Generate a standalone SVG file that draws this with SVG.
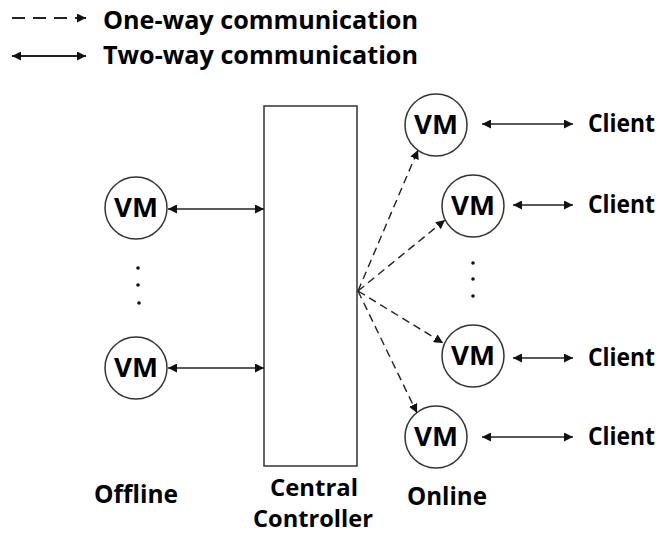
<svg xmlns="http://www.w3.org/2000/svg" width="662" height="533" viewBox="0 0 662 533">
  <defs>
    <marker id="tip" viewBox="0 0 10 10" refX="10" refY="5" markerWidth="9" markerHeight="9" markerUnits="userSpaceOnUse" orient="auto-start-reverse">
      <path d="M0,0 L10,5 L0,10 z" fill="#111"/>
    </marker>
  </defs>
  <style>
    text { font-family: "Open Sans", "Liberation Sans", sans-serif; font-weight: bold; fill: #000; }
    .lbl { font-size: 25px; }
    .cap { font-size: 23px; }
    .vm { font-size: 26px; text-anchor: middle; }
    .node { fill: #fff; stroke: #333; stroke-width: 1.5; }
    .two { stroke: #222; stroke-width: 1.6; fill: none; marker-start: url(#tip); marker-end: url(#tip); }
    .one { stroke: #222; stroke-width: 1.4; fill: none; stroke-dasharray: 8 5; marker-end: url(#tip); }
    .key { stroke-width: 2; }
    .key.one { stroke-dasharray: 13 8; }
    .dot { fill: #111; }
  </style>

  <!-- legend -->
  <g id="legend">
    <line x1="12" y1="18" x2="86" y2="18" class="one key"/>
    <text x="103" y="29" class="lbl" textLength="315" lengthAdjust="spacingAndGlyphs">One-way communication</text>
    <line x1="12" y1="56" x2="86" y2="56" class="two key"/>
    <text x="103" y="64" class="lbl" textLength="315" lengthAdjust="spacingAndGlyphs">Two-way communication</text>
  </g>

  <!-- central controller -->
  <g id="controller">
    <rect x="264" y="106" width="93" height="360" class="node"/>
    <text x="270" y="496" class="cap" textLength="88" lengthAdjust="spacingAndGlyphs">Central</text>
    <text x="253" y="527" class="cap" textLength="120" lengthAdjust="spacingAndGlyphs">Controller</text>
  </g>

  <!-- offline side -->
  <g id="vm-off-1"><circle cx="136" cy="208" r="31" class="node"/><text x="136" y="217" class="vm" textLength="44" lengthAdjust="spacingAndGlyphs">VM</text></g>
  <g id="vm-off-2"><circle cx="136" cy="368" r="31" class="node"/><text x="136" y="377" class="vm" textLength="44" lengthAdjust="spacingAndGlyphs">VM</text></g>
  <g id="offline-dots">
    <circle cx="138" cy="268" r="1.8" class="dot"/>
    <circle cx="138" cy="285" r="1.8" class="dot"/>
    <circle cx="139" cy="303" r="1.8" class="dot"/>
  </g>
  <text id="offline-label" x="94" y="503" class="lbl" textLength="84" lengthAdjust="spacingAndGlyphs">Offline</text>

  <!-- online side -->
  <g id="vm-on-1"><circle cx="436" cy="125" r="31" class="node"/><text x="436" y="134" class="vm" textLength="44" lengthAdjust="spacingAndGlyphs">VM</text></g>
  <g id="vm-on-2"><circle cx="473" cy="206" r="31" class="node"/><text x="473" y="215" class="vm" textLength="44" lengthAdjust="spacingAndGlyphs">VM</text></g>
  <g id="vm-on-3"><circle cx="473" cy="356" r="31" class="node"/><text x="473" y="365" class="vm" textLength="44" lengthAdjust="spacingAndGlyphs">VM</text></g>
  <g id="vm-on-4"><circle cx="436" cy="437" r="31" class="node"/><text x="436" y="446" class="vm" textLength="44" lengthAdjust="spacingAndGlyphs">VM</text></g>
  <g id="online-dots">
    <circle cx="473" cy="263" r="1.8" class="dot"/>
    <circle cx="473" cy="279" r="1.8" class="dot"/>
    <circle cx="473" cy="296" r="1.8" class="dot"/>
  </g>
  <text id="online-label" x="407" y="505" class="lbl" textLength="80" lengthAdjust="spacingAndGlyphs">Online</text>

  <g id="clients">
    <text x="588" y="132" class="lbl" textLength="67" lengthAdjust="spacingAndGlyphs">Client</text>
    <text x="588" y="213" class="lbl" textLength="67" lengthAdjust="spacingAndGlyphs">Client</text>
    <text x="588" y="366" class="lbl" textLength="67" lengthAdjust="spacingAndGlyphs">Client</text>
    <text x="588" y="445" class="lbl" textLength="67" lengthAdjust="spacingAndGlyphs">Client</text>
  </g>

  <!-- connectors -->
  <g id="connectors">
    <line x1="168" y1="209" x2="264" y2="209" class="two"/>
    <line x1="168" y1="368" x2="264" y2="368" class="two"/>

    <line x1="358" y1="291" x2="418" y2="150" class="one"/>
    <line x1="358" y1="291" x2="445" y2="220" class="one"/>
    <line x1="358" y1="291" x2="443" y2="343" class="one"/>
    <line x1="358" y1="291" x2="417" y2="413" class="one"/>

    <line x1="482" y1="124" x2="573" y2="124" class="two"/>
    <line x1="513" y1="205" x2="573" y2="205" class="two"/>
    <line x1="513" y1="358" x2="573" y2="358" class="two"/>
    <line x1="482" y1="437" x2="573" y2="437" class="two"/>
  </g>
</svg>
